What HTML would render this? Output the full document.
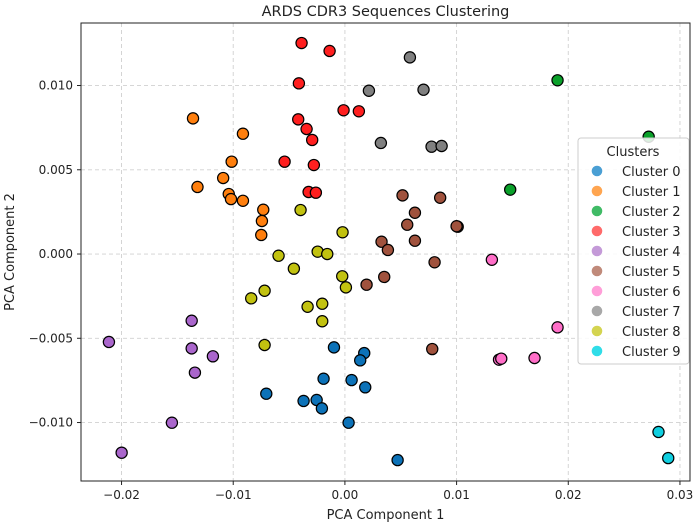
<!DOCTYPE html>
<html><head><meta charset="utf-8"><style>
body{margin:0;background:#fff;}
svg text{font-family:"DejaVu Sans","Liberation Sans",sans-serif;fill:#222;}
</style></head><body>
<svg id="chart" width="699" height="525" xmlns="http://www.w3.org/2000/svg"></svg>
<script>
const clusterNames=["Cluster 0","Cluster 1","Cluster 2","Cluster 3","Cluster 4","Cluster 5","Cluster 6","Cluster 7","Cluster 8","Cluster 9"];
const pointColors=["#0c72b8","#ff7f0e","#0aa02a","#ff1f1f","#aa66cc","#a0523d","#ff6ec8","#808080","#c2c210","#10cfe0"];
const legendColors=["#4a9fd4","#ffa550","#40bb66","#ff6a6a","#c49ad8","#c08a7a","#ff9ed8","#a8a8a8","#d4d450","#30dde8"];
// x values in units of 0.001
const c0x=[-0.98,1.73,1.37,0.60,1.82,0.33,4.72,-7.04,-3.70,-2.53,-2.06,-1.91];
const c0y=[-5.54,-5.88,-6.31,-7.48,-7.91,-10.01,-12.23,-8.29,-8.72,-8.66,-9.16,-7.40];
const c1x=[-13.6,-9.13,-10.14,-10.9,-13.2,-10.4,-10.2,-9.13,-7.31,-7.43,-7.49];
const c1y=[8.05,7.14,5.48,4.51,3.98,3.56,3.26,3.16,2.63,1.96,1.13];
const c2x=[19.04,27.2,14.8];
const c2y=[10.31,6.96,3.82];
const c3x=[-3.88,-1.37,-4.12,-0.12,1.25,-4.18,-3.43,-2.93,-5.40,-2.78,-3.25,-2.60];
const c3y=[12.52,12.05,10.13,8.53,8.47,7.99,7.42,6.77,5.48,5.28,3.68,3.64];
const c4x=[-21.13,-13.72,-13.72,-11.82,-13.43,-15.49,-19.99];
const c4y=[-5.22,-3.96,-5.60,-6.07,-7.04,-10.01,-11.79];
const c5x=[5.16,8.53,6.27,5.58,10.1,10.0,3.28,3.85,6.27,8.03,3.52,1.94,7.82];
const c5y=[3.48,3.34,2.45,1.74,1.62,1.65,0.73,0.24,0.79,-0.49,-1.36,-1.82,-5.64];
const c6x=[13.16,19.04,13.8,14.0,16.98];
const c6y=[-0.34,-4.35,-6.27,-6.21,-6.17];
const c7x=[2.15,3.22,5.82,7.04,7.76,8.66];
const c7y=[9.69,6.59,11.67,9.75,6.37,6.41];
const c8x=[-5.94,-2.44,-1.58,-4.57,-0.24,0.09,-8.39,-7.19,-3.34,-2.03,-2.03,-7.19,-3.97,-0.21];
const c8y=[-0.10,0.14,0.0,-0.87,-1.32,-1.98,-2.63,-2.18,-3.13,-2.95,-3.99,-5.40,2.61,1.29];
const c9x=[28.08,28.95];
const c9y=[-10.56,-12.11];
const xTicks=[-0.02,-0.01,0.00,0.01,0.02,0.03];
const xTickLabels=["\u22120.02","\u22120.01","0.00","0.01","0.02","0.03"];
const yTicks=[-0.010,-0.005,0.000,0.005,0.010];
const yTickLabels=["\u22120.010","\u22120.005","0.000","0.005","0.010"];
const allX=[c0x,c1x,c2x,c3x,c4x,c5x,c6x,c7x,c8x,c9x];
const allY=[c0y,c1y,c2y,c3y,c4y,c5y,c6y,c7y,c8y,c9y];

const L=81,R=690,T=23,B=481;
const xMin=-0.02363,xMax=0.0309,yMin=-0.01347,yMax=0.01371;
const sx=v=>L+(v-xMin)/(xMax-xMin)*(R-L);
const sy=v=>B-(v-yMin)/(yMax-yMin)*(B-T);
const svg=document.getElementById('chart');
const NS="http://www.w3.org/2000/svg";
function mk(tag,attrs,parent){const e=document.createElementNS(NS,tag);for(const k in attrs)e.setAttribute(k,attrs[k]);(parent||svg).appendChild(e);return e;}

xTicks.forEach((t,i)=>{
  const x=sx(t);
  const g=mk('line',{x1:x,x2:x,y1:T,y2:B,stroke:'#d0d0d0','stroke-dasharray':'4,3','stroke-width':0.9});
  
  
  const tk=mk('line',{x1:x,x2:x,y1:B,y2:B+4,stroke:'#222'});
  
  
  const tx=mk('text',{x:x,y:B+18,'text-anchor':'middle','font-size':12});
  tx.textContent=xTickLabels[i];
  
  
});
yTicks.forEach((t,i)=>{
  const y=sy(t);
  const g=mk('line',{x1:L,x2:R,y1:y,y2:y,stroke:'#d0d0d0','stroke-dasharray':'4,3','stroke-width':0.9});
  
  
  const tk=mk('line',{x1:L-4,x2:L,y1:y,y2:y,stroke:'#222'});
  
  
  const tx=mk('text',{x:L-8,y:y+4,'text-anchor':'end','font-size':12});
  tx.textContent=yTickLabels[i];
  
  
});

allX.forEach((xs,c)=>{
  xs.forEach((v,i)=>{
    const p=mk('circle',{cx:sx(v/1000),cy:sy(allY[c][i]/1000),r:5.6,fill:pointColors[c],stroke:'#000','stroke-width':1.2});
    
    
  });
});

const frame=mk('rect',{x:L,y:T,width:R-L,height:B-T,fill:'none',stroke:'#222','stroke-width':1});



const title=mk('text',{x:(L+R)/2,y:16,'text-anchor':'middle','font-size':14.5});
title.textContent="ARDS CDR3 Sequences Clustering";


const xl=mk('text',{x:(L+R)/2,y:519,'text-anchor':'middle','font-size':13});
xl.textContent="PCA Component 1";


const yl=mk('text',{x:0,y:0,'text-anchor':'middle','font-size':13,transform:'translate(14,'+((T+B)/2)+') rotate(-90)'});
yl.textContent="PCA Component 2";



const lg=mk('g',{});


mk('rect',{x:578,y:138,width:111,height:226,rx:3,fill:'#fff','fill-opacity':0.85,stroke:'#ccc'},lg);
const lt=mk('text',{x:633,y:156,'text-anchor':'middle','font-size':13},lg);
lt.textContent="Clusters";
clusterNames.forEach((n,i)=>{
  const y=171+i*20;
  const e=mk('g',{},lg);
  
  
  mk('circle',{cx:597,cy:y,r:5.3,fill:legendColors[i]},e);
  const t=mk('text',{x:622,y:y+5,'font-size':13},e);
  t.textContent=n;
});
</script>
</body></html>
